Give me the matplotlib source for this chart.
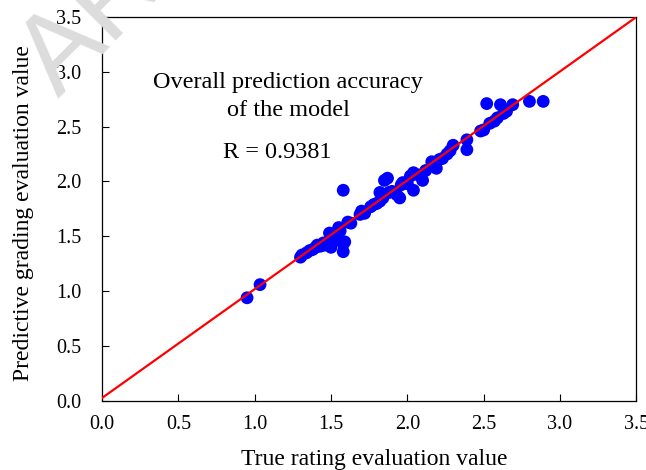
import numpy as np
import matplotlib
matplotlib.use('Agg')
import matplotlib.pyplot as plt

true_vals = [0.95, 1.035,
	1.30, 1.31, 1.34, 1.36, 1.38, 1.40, 1.41, 1.43, 1.45, 1.46, 1.49, 1.50, 1.51,
	1.49, 1.53, 1.55, 1.56, 1.58, 1.58, 1.59, 1.58, 1.61, 1.63, 1.69, 1.70, 1.72,
	1.76, 1.78, 1.80, 1.82, 1.82, 1.84, 1.85, 1.87, 1.88, 1.90, 1.93, 1.95, 1.96,
	1.97, 2.00, 2.02, 2.04, 2.04, 2.07, 2.10, 2.12, 2.16, 2.19, 2.21, 2.23, 2.26,
	2.28, 2.30, 2.39, 2.39, 2.48, 2.50, 2.52, 2.54, 2.57, 2.59, 2.61, 2.63, 2.65,
	2.69, 2.80, 2.89]
pred_vals = [0.94, 1.06,
	1.31, 1.33, 1.35, 1.37, 1.38, 1.40, 1.42, 1.41, 1.44, 1.42, 1.43, 1.40, 1.45,
	1.53, 1.50, 1.58, 1.55, 1.36, 1.43, 1.45, 1.92, 1.63, 1.62, 1.70, 1.73, 1.71,
	1.77, 1.79, 1.80, 1.82, 1.90, 1.85, 2.01, 2.03, 1.90, 1.91, 1.88, 1.85, 1.97,
	1.99, 1.98, 2.05, 2.08, 1.92, 2.06, 2.01, 2.10, 2.18, 2.12, 2.20, 2.21, 2.25,
	2.28, 2.33, 2.38, 2.29, 2.46, 2.47, 2.71, 2.53, 2.55, 2.58, 2.70, 2.62, 2.64,
	2.70, 2.73, 2.73]

fit_slope = 0.992
fit_intercept = 0.027
r_value = 0.9381

ticks = [0.0, 0.5, 1.0, 1.5, 2.0, 2.5, 3.0, 3.5]

plt.rcParams['font.family'] = ['Liberation Serif', 'DejaVu Serif']

fig = plt.figure(figsize=(6.46, 4.70), dpi=100)
ax = fig.add_axes([0.158, 0.147, 0.827, 0.817])

# faint watermark in the corner
fig.text(0.09, 0.79, 'ARTICLE', rotation=45, rotation_mode='anchor',
	fontsize=80, color='#dcdcdc', family='Liberation Sans',
	zorder=0, ha='left', va='baseline')

ax.scatter(true_vals, pred_vals, s=85, color='#0000ff', edgecolors='none', zorder=2)

xfit = np.array([0.0, 3.5])
ax.plot(xfit, fit_slope*xfit + fit_intercept, color='#ff0000', lw=1.6, zorder=3)

ax.set_xlim(0, 3.5)
ax.set_ylim(0, 3.5)
ax.set_xticks(ticks)
ax.set_yticks(ticks)
ax.set_xticklabels(['%.1f' % t for t in ticks])
ax.set_yticklabels(['%.1f' % t for t in ticks])
ax.tick_params(direction='in', length=5, width=0.8, labelsize=14.5)
ax.tick_params(axis='x', pad=10)
ax.tick_params(axis='y', pad=15)
for s in ax.spines.values():
	s.set_linewidth(0.9)

ax.set_xlabel('True rating evaluation value', fontsize=17)
ax.set_ylabel('Predictive grading evaluation value', fontsize=17)
ax.xaxis.set_label_coords(0.51, -0.125)
ax.yaxis.set_label_coords(-0.128, 0.49)

ax.text(1.22, 2.90, 'Overall prediction accuracy', fontsize=17.5, ha='center', va='center')
ax.text(1.22, 2.65, 'of the model', fontsize=17.5, ha='center', va='center')
ax.text(1.15, 2.26, 'R = %.4f' % r_value, fontsize=17.5, ha='center', va='center')

fig.patch.set_alpha(1)
ax.patch.set_alpha(0)
plt.savefig('out.png', dpi=100)
plt.close()
